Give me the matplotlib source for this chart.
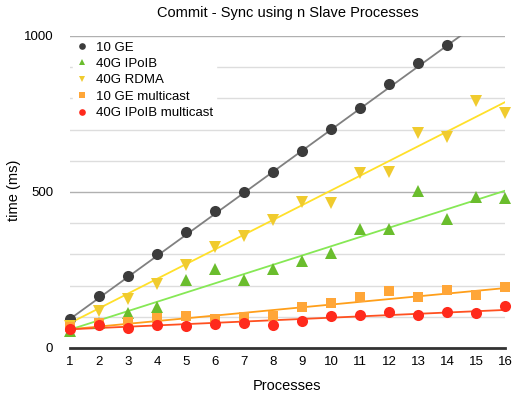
import numpy as np
import matplotlib
matplotlib.use('Agg')
import matplotlib.pyplot as plt

plt.rcParams['font.family'] = ['Liberation Sans', 'DejaVu Sans']

# Datos
procesos = np.arange(1, 17)

ge10 = [93, 167, 231, 300, 372, 439, 500, 564, 631, 702, 769, 846, 913, 971]
ipoib40 = [54, 81, 112, 131, 218, 253, 218, 253, 279, 304, 381, 381, 503, 413, 484, 481]
rdma40 = [72, 119, 157, 205, 266, 324, 359, 410, 468, 465, 561, 564, 689, 676, 792, 753]
ge10_multi = [66, 80, 83, 96, 103, 93, 99, 103, 131, 144, 163, 183, 163, 186, 170, 195]
ipoib40_multi = [60, 74, 64, 74, 71, 77, 80, 74, 87, 103, 106, 115, 106, 115, 112, 135]

# lineas de tendencia (valor en x=1 y en x=16)
tend_ge10 = [93, 1104]
tend_ipoib40 = [59, 504]
tend_rdma40 = [80, 788]
tend_ge10_multi = [60, 192]
tend_ipoib40_multi = [60, 122]

series = [
    ('10 GE', ge10, tend_ge10, 'o', '#3c3c3c', '#808080'),
    ('40G IPoIB', ipoib40, tend_ipoib40, '^', '#6abd2d', '#86e855'),
    ('40G RDMA', rdma40, tend_rdma40, 'v', '#f0cb2e', '#ffe02a'),
    ('10 GE multicast', ge10_multi, tend_ge10_multi, 's', '#ffa638', '#ff9f1a'),
    ('40G IPoIB multicast', ipoib40_multi, tend_ipoib40_multi, 'o', '#ff2a1c', '#ff5020'),
]

fig = plt.figure(figsize=(5.13, 3.95), dpi=100)
ax = fig.add_axes([70/513, 1-348/395, 435/513, 312/395])

for nombre, valores, tend, marca, color, color_linea in series:
    xs = procesos[:len(valores)]
    ax.plot([1, 16], tend, color=color_linea, lw=1.3, zorder=2)
    ms = 8 if marca != 's' else 7.3
    ax.plot(xs, valores, marca, color=color, ms=ms, mew=0, label=nombre,
            zorder=3, clip_on=False)

ax.set_xlim(1, 16)
ax.set_ylim(0, 1000)
ax.set_xticks(procesos)
ax.set_yticks([0, 500, 1000])
ax.set_yticks(np.arange(100, 1000, 100), minor=True)
ax.grid(axis='y', which='major', color='#b0b0b0', lw=1)
ax.grid(axis='y', which='minor', color='#dddddd', lw=1)
ax.set_axisbelow(True)
ax.tick_params(which='both', length=0, labelsize=9.5, colors='black')
ax.tick_params(axis='x', pad=6)
ax.tick_params(axis='y', pad=12)
for s in ['top', 'right', 'left']:
    ax.spines[s].set_visible(False)
ax.spines['bottom'].set_color('#333333')
ax.spines['bottom'].set_linewidth(2)
ax.spines['bottom'].set_zorder(4)

ax.set_title('Commit - Sync using n Slave Processes', fontsize=10.5, pad=14)
ax.set_xlabel('Processes', fontsize=10.5, labelpad=8)
ax.set_ylabel('time (ms)', fontsize=10.5)
ax.yaxis.set_label_coords(-0.113, 0.506)

leg = ax.legend(loc='upper left', bbox_to_anchor=(0.0, 1.0), fontsize=9.5,
                markerscale=0.6, frameon=True, fancybox=False,
                handlelength=1.0, handletextpad=0.6, labelspacing=0.32,
                borderpad=0.2, borderaxespad=0.2)
leg.get_frame().set_facecolor('white')
leg.get_frame().set_edgecolor('white')
leg.get_frame().set_alpha(1)

plt.savefig('out.png', dpi=100)
